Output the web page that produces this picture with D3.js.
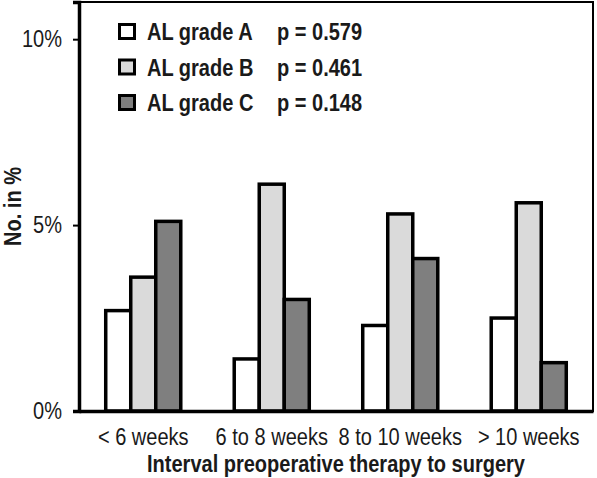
<!DOCTYPE html>
<html>
<head>
<meta charset="utf-8">
<script src="https://cdn.jsdelivr.net/npm/d3@7"></script>
<style>
  html, body { margin: 0; padding: 0; background: #fff; }
  svg { display: block; font-family: "Liberation Sans", Arial, sans-serif; }
</style>
</head>
<body>
<svg id="chart" width="597" height="478"></svg>
<script>
const categories = ["< 6 weeks", "6 to 8 weeks", "8 to 10 weeks", "> 10 weeks"];
const seriesNames = ["AL grade A", "AL grade B", "AL grade C"];
const pValues = ["p = 0.579", "p = 0.461", "p = 0.148"];
const gradeA = [2.7, 1.4, 2.3, 2.5];
const gradeB = [3.6, 6.1, 5.3, 5.6];
const gradeC = [5.1, 3.0, 4.1, 1.3];
const yTicks = [0, 5, 10];
const colors = ["#ffffff", "#dadada", "#7f7f7f"];

const series = [gradeA, gradeB, gradeC];
const svg = d3.select("#chart");
const mLeft = 79, mRight = 593, mTop = 2, mBottom = 411;
const FS = 23, SX = 0.87;   // tall, slightly condensed lettering
const txtCol = "#1a1a1a";

const x0 = d3.scaleBand().domain(categories).range([mLeft, mRight])
  .paddingInner(0.416).paddingOuter(0.208);
const x1 = d3.scaleBand().domain(seriesNames).range([0, x0.bandwidth()]).padding(0);
const y = d3.scaleLinear().domain([0, 11]).range([mBottom, mTop]);

// frame
svg.append("rect").attr("x", mLeft).attr("y", mTop)
  .attr("width", mRight - mLeft).attr("height", mBottom - mTop)
  .attr("fill", "none").attr("stroke", "#000").attr("stroke-width", 2);

// bars
const groups = svg.append("g").selectAll("g").data(categories).join("g")
  .attr("transform", d => `translate(${x0(d)},0)`);
groups.selectAll("rect")
  .data((c, ci) => seriesNames.map((s, si) => ({ s, si, v: series[si][ci] })))
  .join("rect")
  .attr("x", d => x1(d.s))
  .attr("y", d => y(d.v))
  .attr("width", x1.bandwidth())
  .attr("height", d => y(0) - y(d.v))
  .attr("fill", d => colors[d.si])
  .attr("stroke", "#000")
  .attr("stroke-width", 3.5);

// y axis
const yAxis = svg.append("g").attr("transform", `translate(${mLeft},0)`)
  .call(d3.axisLeft(y).tickValues(yTicks).tickFormat(d => d + "%").tickSize(6).tickPadding(13.5));
yAxis.select(".domain").attr("stroke-width", 3.5);
yAxis.selectAll(".tick line").attr("stroke-width", 2);
yAxis.selectAll("text").attr("font-size", FS).attr("fill", txtCol)
  .attr("font-family", "Liberation Sans, Arial, sans-serif")
  .attr("transform", `scale(${SX},1)`);

// x axis
const xAxis = svg.append("g").attr("transform", `translate(0,${mBottom})`)
  .call(d3.axisBottom(x0).tickSize(0).tickPadding(17.5));
xAxis.select(".domain").attr("stroke-width", 3.5);
xAxis.selectAll("text").attr("font-size", FS).attr("fill", txtCol)
  .attr("font-family", "Liberation Sans, Arial, sans-serif")
  .attr("transform", `scale(${SX},1)`);

// axis titles
svg.append("text").attr("transform", `translate(${(mLeft + mRight) / 2},472) scale(${SX},1)`)
  .attr("text-anchor", "middle").attr("font-size", FS).attr("font-weight", "bold")
  .attr("fill", txtCol).text("Interval preoperative therapy to surgery");
svg.append("text").attr("transform", `translate(21,${(mTop + mBottom) / 2}) rotate(-90) scale(${SX},1)`)
  .attr("text-anchor", "middle").attr("font-size", FS).attr("font-weight", "bold")
  .attr("fill", txtCol).text("No. in %");

// legend
const legend = svg.append("g").selectAll("g").data(seriesNames).join("g")
  .attr("transform", (d, i) => `translate(0,${i * 35.5})`);
legend.append("rect").attr("x", 119.5).attr("y", 24.5).attr("width", 15).attr("height", 14)
  .attr("fill", (d, i) => colors[i]).attr("stroke", "#000").attr("stroke-width", 3);
legend.append("text").attr("transform", `translate(147,40) scale(${SX},1)`).attr("font-size", FS)
  .attr("font-weight", "bold").attr("fill", txtCol).text(d => d);
legend.append("text").attr("transform", `translate(277,40) scale(${SX},1)`).attr("font-size", FS)
  .attr("font-weight", "bold").attr("fill", txtCol).text((d, i) => pValues[i]);
</script>
</body>
</html>
